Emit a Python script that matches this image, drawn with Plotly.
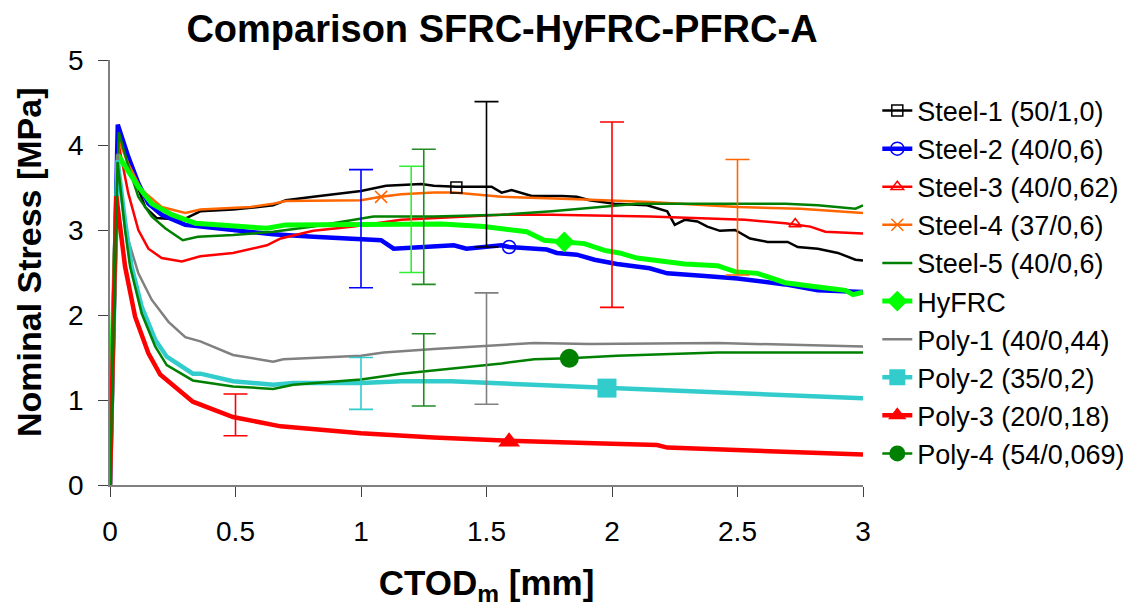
import plotly.graph_objects as go

# ---------------- data ----------------
names = ["Steel-1 (50/1,0)", "Steel-2 (40/0,6)", "Steel-3 (40/0,62)", "Steel-4 (37/0,6)",
         "Steel-5 (40/0,6)", "HyFRC", "Poly-1 (40/0,44)", "Poly-2 (35/0,2)",
         "Poly-3 (20/0,18)", "Poly-4 (54/0,069)"]

steel1_x = [0, 0.035, 0.073, 0.113, 0.14, 0.186, 0.23, 0.29, 0.36, 0.49, 0.65, 0.70, 0.81, 1.0, 1.10, 1.24, 1.29, 1.38,
            1.52, 1.56, 1.60, 1.68, 1.80, 1.86, 1.91, 2.01, 2.14, 2.22, 2.25, 2.29, 2.34, 2.38, 2.43, 2.49, 2.55,
            2.62, 2.70, 2.74, 2.82, 2.90, 2.97, 3.0]
steel1_y = [0, 4.18, 3.80, 3.48, 3.27, 3.14, 3.13, 3.12, 3.22, 3.24, 3.29, 3.35, 3.39, 3.46, 3.52, 3.54, 3.52, 3.51,
            3.51, 3.44, 3.47, 3.40, 3.40, 3.39, 3.35, 3.31, 3.29, 3.22, 3.06, 3.12, 3.10, 3.04, 2.99, 3.00, 2.90,
            2.86, 2.86, 2.80, 2.78, 2.73, 2.65, 2.64]

steel2_x = [0, 0.031, 0.073, 0.113, 0.153, 0.206, 0.30, 0.42, 0.49, 0.65, 0.81, 1.0, 1.08, 1.13, 1.29, 1.37, 1.42,
            1.56, 1.59, 1.74, 1.78, 1.86, 1.93, 2.02, 2.15, 2.22, 2.37, 2.50, 2.69, 2.82, 3.0]
steel2_y = [0, 4.24, 3.86, 3.55, 3.31, 3.18, 3.06, 3.02, 3.00, 2.95, 2.92, 2.89, 2.88, 2.78, 2.80, 2.82, 2.78,
            2.82, 2.80, 2.77, 2.73, 2.71, 2.65, 2.60, 2.55, 2.49, 2.46, 2.43, 2.36, 2.29, 2.27]

steel3_x = [0, 0.035, 0.073, 0.113, 0.153, 0.206, 0.286, 0.36, 0.49, 0.625, 0.68, 0.81, 0.97, 1.16, 1.36, 1.56,
            1.76, 2.15, 2.53, 2.69, 2.79, 2.85, 3.0]
steel3_y = [0, 4.00, 3.43, 3.00, 2.78, 2.67, 2.63, 2.69, 2.73, 2.82, 2.90, 2.99, 3.04, 3.12, 3.15, 3.18,
            3.18, 3.16, 3.12, 3.08, 3.04, 2.98, 2.96]

steel4_x = [0, 0.036, 0.073, 0.126, 0.206, 0.30, 0.36, 0.56, 0.65, 0.70, 1.0, 1.08, 1.16, 1.29, 1.37, 1.56, 1.89,
            2.15, 2.50, 2.75, 3.0]
steel4_y = [0, 4.05, 3.78, 3.47, 3.27, 3.20, 3.24, 3.27, 3.31, 3.34, 3.35, 3.39, 3.42, 3.44, 3.44, 3.39, 3.36,
            3.33, 3.27, 3.25, 3.20]

steel5_x = [0, 0.035, 0.073, 0.113, 0.166, 0.22, 0.29, 0.35, 0.49, 0.65, 0.81, 1.0, 1.05, 1.29, 1.56, 1.76, 1.95,
            2.10, 2.42, 2.69, 2.82, 2.97, 3.0]
steel5_y = [0, 4.15, 3.75, 3.39, 3.16, 3.02, 2.88, 2.92, 2.94, 2.98, 3.04, 3.13, 3.16, 3.16, 3.18, 3.22, 3.27,
            3.31, 3.31, 3.31, 3.29, 3.25, 3.29]

hyfrc_x = [0, 0.033, 0.073, 0.113, 0.166, 0.246, 0.34, 0.42, 0.625, 0.70, 0.89, 1.10, 1.32, 1.49, 1.66, 1.73,
           1.81, 1.89, 1.97, 2.03, 2.10, 2.21, 2.29, 2.42, 2.49, 2.58, 2.69, 2.82, 2.93, 2.96, 3.0]
hyfrc_y = [0.8, 3.88, 3.69, 3.51, 3.31, 3.18, 3.08, 3.06, 3.02, 3.06, 3.06, 3.06, 3.07, 3.04, 2.98, 2.88,
           2.86, 2.84, 2.76, 2.73, 2.67, 2.63, 2.60, 2.58, 2.51, 2.49, 2.38, 2.33, 2.29, 2.24, 2.27]

poly1_x = [0, 0.03, 0.05, 0.073, 0.113, 0.166, 0.233, 0.30, 0.36, 0.49, 0.65, 0.69, 1.0, 1.09, 1.29, 1.56, 1.69,
           1.91, 2.42, 3.0]
poly1_y = [0, 3.90, 3.30, 2.88, 2.49, 2.18, 1.92, 1.74, 1.69, 1.53, 1.45, 1.48, 1.52, 1.56, 1.60, 1.65, 1.67,
           1.66, 1.67, 1.63]

poly2_x = [0, 0.03, 0.06, 0.086, 0.126, 0.18, 0.226, 0.33, 0.36, 0.49, 0.65, 0.73, 1.0, 1.16, 1.36, 1.62, 1.98,
           2.42, 3.0]
poly2_y = [0, 3.82, 3.10, 2.57, 2.10, 1.71, 1.51, 1.31, 1.31, 1.22, 1.18, 1.20, 1.20, 1.22, 1.22, 1.19, 1.14,
           1.09, 1.02]

poly3_x = [0, 0.025, 0.06, 0.10, 0.153, 0.20, 0.33, 0.40, 0.49, 0.68, 0.76, 1.0, 1.29, 1.59, 1.93, 2.18, 2.22,
           2.69, 3.0]
poly3_y = [0, 3.40, 2.57, 1.98, 1.55, 1.30, 0.98, 0.90, 0.80, 0.69, 0.67, 0.61, 0.56, 0.52, 0.49, 0.47, 0.44,
           0.39, 0.36]

poly4_x = [0, 0.03, 0.06, 0.08, 0.126, 0.18, 0.226, 0.33, 0.49, 0.65, 0.73, 1.0, 1.16, 1.29, 1.56, 1.69, 1.83,
           2.02, 2.42, 3.0]
poly4_y = [0, 3.80, 3.00, 2.57, 2.02, 1.63, 1.41, 1.23, 1.16, 1.13, 1.18, 1.24, 1.31, 1.35, 1.43, 1.48, 1.49,
           1.52, 1.56, 1.56]

# single marker points on curves (None = no marker for that series)
marker_x = [1.38, 1.59, 2.73, 1.08, None, 1.81, None, 1.98, 1.59, 1.83]
marker_y = [3.50, 2.80, 3.07, 3.39, None, 2.86, None, 1.14, 0.51, 1.49]

# error bars
eb_series = [1, 5, 4, 0, 2, 3, 6, 7, 9, 8]
eb_x = [1.0, 1.2, 1.25, 1.5, 2.0, 2.5, 1.5, 1.0, 1.25, 0.5]
eb_hi = [3.71, 3.75, 3.95, 4.51, 4.27, 3.83, 2.26, 1.50, 1.78, 1.07]
eb_lo = [2.32, 2.50, 2.36, 2.80, 2.09, 2.47, 0.95, 0.89, 0.93, 0.58]

x_ticks = [0, 0.5, 1, 1.5, 2, 2.5, 3]
y_ticks = [0, 1, 2, 3, 4, 5]

# ---------------- styles ----------------
xs = [steel1_x, steel2_x, steel3_x, steel4_x, steel5_x, hyfrc_x, poly1_x, poly2_x, poly3_x, poly4_x]
ys = [steel1_y, steel2_y, steel3_y, steel4_y, steel5_y, hyfrc_y, poly1_y, poly2_y, poly3_y, poly4_y]
colors = ["#000000", "#0000FF", "#FF0000", "#FF6600", "#008000", "#00FF00", "#808080", "#33CCCC", "#FF0000", "#008000"]
eb_colors = ["#000000", "#0000FF", "#FF0000", "#FF6600", "#228B22", "#33EE33", "#808080", "#33CCCC", "#FF0000", "#228B22"]
widths = [2.5, 4.5, 2.5, 2.5, 2.5, 5, 2.5, 4.5, 4.5, 2.5]
symbols = ["square-open", "circle-open", "triangle-up-open", "x-thin-open", None, "diamond", None,
           "square", "triangle-up", "circle"]
msizes = [11, 13, 11, 12, 0, 16, 0, 19, 19, 19]

FONT = "Liberation Sans, Arial, sans-serif"

# the page body has an 8px margin: the svg is drawn 8px right/down, so shrink by 8
OFF = 8
W, H = 1131 - OFF, 608 - OFF
PL, PR, PT, PB = 110, 863, 60, 485  # plot box in reference pixels

fig = go.Figure()

# lines
for i in range(10):
    has_marker = marker_x[i] is not None
    fig.add_trace(go.Scatter(
        x=xs[i], y=ys[i], mode="lines", name=names[i],
        line=dict(color=colors[i], width=widths[i]),
        showlegend=not has_marker, legendrank=i + 1, hoverinfo="skip"))

# error bars
for j in range(len(eb_x)):
    c = (eb_hi[j] + eb_lo[j]) / 2
    h = (eb_hi[j] - eb_lo[j]) / 2
    fig.add_trace(go.Scatter(
        x=[eb_x[j]], y=[c], mode="markers", marker=dict(size=1, opacity=0),
        error_y=dict(type="data", array=[h], symmetric=True, color=eb_colors[eb_series[j]],
                     thickness=1.6, width=12),
        showlegend=False, hoverinfo="skip"))

# markers (legend entries)
for i in range(10):
    if marker_x[i] is None:
        continue
    lw = 1.5 if "open" in symbols[i] else 0
    fig.add_trace(go.Scatter(
        x=[marker_x[i]], y=[marker_y[i]], mode="lines+markers", name=names[i],
        line=dict(color=colors[i], width=widths[i]),
        marker=dict(symbol=symbols[i], size=msizes[i], color=colors[i],
                    line=dict(color=colors[i], width=lw)),
        showlegend=True, legendrank=i + 1))

pw = PR - PL
ph = PB - PT

fig.update_layout(
    width=W, height=H,
    margin=dict(l=PL - OFF, r=W - (PR - OFF), t=PT - OFF, b=H - (PB - OFF), autoexpand=False),
    paper_bgcolor="white", plot_bgcolor="white",
    font=dict(family=FONT, color="black"),
    title=dict(text="<b>Comparison SFRC-HyFRC-PFRC-A</b>", x=(502 - OFF) / W, xref="container", xanchor="center",
               y=1 - (29 - OFF) / H, yref="container", yanchor="middle", font=dict(size=38, family=FONT)),
    legend=dict(x=1.019, xanchor="left", y=0.9377, yanchor="top", font=dict(size=27, family=FONT),
                bgcolor="rgba(0,0,0,0)", traceorder="normal"),
    xaxis=dict(range=[0, 3], tickvals=x_ticks, ticktext=[str(v) for v in x_ticks], showgrid=False, zeroline=False,
               showline=True, linecolor="#808080", linewidth=1.5, ticks="outside", ticklen=10,
               tickcolor="#404040", tickwidth=1.2, tickfont=dict(size=28), ticklabelstandoff=11,
               title=dict(text="<b>CTOD<sub>m</sub> [mm]</b>", font=dict(size=35), standoff=24)),
    yaxis=dict(range=[0, 5], tickvals=y_ticks, showgrid=False, zeroline=False,
               showline=True, linecolor="#808080", linewidth=1.5, ticks="outside", ticklen=10,
               tickcolor="#404040", tickwidth=1.2, tickfont=dict(size=28), ticklabelstandoff=9),
    annotations=[dict(text="<b>Nominal Stress [MPa]</b>", textangle=-90, xref="paper", yref="paper",
                      x=(29 - PL) / pw, y=(PB - 262) / ph, xanchor="center", yanchor="middle",
                      showarrow=False, font=dict(size=34, family=FONT))],
)

fig.write_html("out.html")
